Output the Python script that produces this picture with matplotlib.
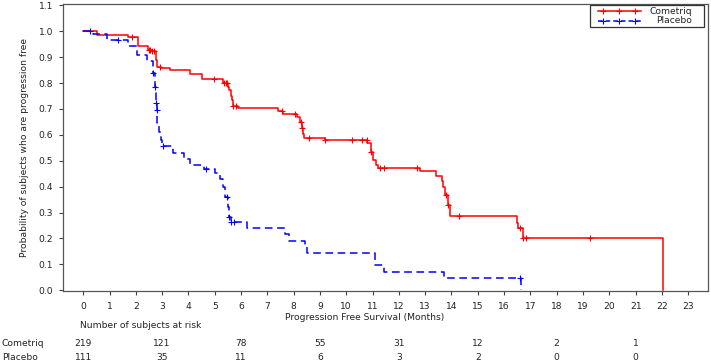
import numpy as np
import matplotlib
matplotlib.use("Agg")
from matplotlib import pyplot as plt
from matplotlib.lines import Line2D
from matplotlib.patches import Rectangle
from matplotlib.transforms import blended_transform_factory

# Kaplan-Meier steps (time in months, survival after the step)
cometriq_t = [0.0, 0.52, 1.7, 2.1, 2.47, 2.6, 2.75, 2.8, 2.95, 3.3, 4.06, 4.5, 5.32,
              5.5, 5.55, 5.6, 5.64, 5.68, 5.89, 7.41, 7.6, 8.11, 8.26, 8.3, 8.35, 8.4,
              9.19, 10.8, 10.93, 11.03, 11.13, 11.22, 12.8, 13.41, 13.63, 13.69, 13.75,
              13.85, 13.94, 16.48, 16.54, 16.71, 22.04]
cometriq_s = [1.0, 0.987, 0.976, 0.942, 0.929, 0.925, 0.89, 0.862, 0.857, 0.852, 0.834,
              0.814, 0.80, 0.785, 0.772, 0.75, 0.734, 0.711, 0.702, 0.691, 0.680, 0.667,
              0.65, 0.625, 0.605, 0.589, 0.580, 0.567, 0.535, 0.502, 0.483, 0.473, 0.46,
              0.441, 0.423, 0.40, 0.367, 0.33, 0.287, 0.261, 0.239, 0.203, 0.0]
cometriq_cens = [1.84, 2.5, 2.55, 2.62, 2.68, 2.9, 4.97, 5.35, 5.42, 5.48, 5.7, 5.8,
                 7.57, 8.06, 8.27, 8.33, 8.6, 9.19, 10.2, 10.6, 10.78, 10.93, 11.28,
                 11.43, 12.67, 13.8, 13.88, 14.3, 16.6, 16.72, 16.83, 19.27]

placebo_t = [0.0, 0.38, 0.89, 1.7, 2.03, 2.41, 2.64, 2.72, 2.75, 2.77, 2.79, 2.81,
             2.88, 2.95, 3.0, 3.42, 3.85, 4.05, 4.6, 5.0, 5.2, 5.3, 5.4, 5.5, 5.55, 5.6,
             6.21, 7.67, 7.83, 8.43, 8.49, 11.09, 11.43, 13.7, 16.64]
placebo_s = [1.0, 0.991, 0.965, 0.942, 0.907, 0.884, 0.839, 0.785, 0.76, 0.721, 0.695,
             0.644, 0.612, 0.58, 0.556, 0.530, 0.505, 0.483, 0.467, 0.451, 0.43, 0.40,
             0.361, 0.32, 0.284, 0.265, 0.239, 0.216, 0.190, 0.167, 0.143, 0.098,
             0.072, 0.049, 0.0]
placebo_cens = [0.25, 1.33, 2.66, 2.73, 2.77, 2.79, 3.02, 4.65, 5.45, 5.55, 5.6, 5.72,
                16.62]

risk_times = [0, 3, 6, 9, 12, 15, 18, 21]
cometriq_risk = [219, 121, 78, 55, 31, 12, 2, 1]
placebo_risk = [111, 35, 11, 6, 3, 2, 0, 0]

series_names = ["Cometriq", "Placebo"]

RED = "#ff0000"
BLUE = "#0000ff"
FS = 6.6
TXT = "#222222"
W, H = 711, 364


def surv_at(times, surv, t):
    idx = np.searchsorted(times, t, side="right") - 1
    return np.asarray(surv)[idx]


def fx(px):
    return px / W


def fy(py):
    return 1 - py / H


fig = plt.figure(figsize=(W / 100, H / 100), dpi=100)
ax = fig.add_axes([fx(62.7), fy(291), 645 / W, 287 / H])

ax.step(cometriq_t, cometriq_s, where="post", color=RED, lw=1.1)
ax.plot(cometriq_cens, surv_at(cometriq_t, cometriq_s, cometriq_cens), "+",
        color=RED, ms=4.5, mew=0.8)
ax.step(placebo_t, placebo_s, where="post", color=BLUE, lw=1.1, dashes=(5, 3))
ax.plot(placebo_cens, surv_at(placebo_t, placebo_s, placebo_cens), "+",
        color=BLUE, ms=4.5, mew=0.8)

ax.set_xlim(-0.78, 23.74)
ax.set_ylim(-0.003, 1.105)
ax.set_xticks(range(0, 24))
ax.set_yticks(np.arange(0, 1.11, 0.1))
ax.set_yticklabels([f"{v:.1f}" for v in np.arange(0, 1.11, 0.1)])
ax.tick_params(labelsize=FS, length=3, width=0.8, colors="#444444",
               labelcolor=TXT)
ax.tick_params(axis="y", pad=4)
ax.tick_params(axis="x", pad=5)
for sp in ax.spines.values():
    sp.set_color("#555555")
    sp.set_linewidth(0.9)

fig.text(fx(25), fy(147.5), "Probability of subjects who are progression free",
         rotation=90, ha="center", va="center", fontsize=FS, color=TXT)
fig.text(fx(364.5), fy(317), "Progression Free Survival (Months)",
         ha="center", va="center", fontsize=FS, color=TXT)

# number at risk table
fig.text(fx(141), fy(326), "Number of subjects at risk",
         ha="center", va="center", fontsize=FS, color=TXT)
tr = blended_transform_factory(ax.transData, fig.transFigure)
for label, counts, ypx in [(series_names[0], cometriq_risk, 344),
                           (series_names[1], placebo_risk, 357)]:
    fig.text(fx(2), fy(ypx), label, ha="left", va="center", fontsize=FS, color=TXT)
    for t, n in zip(risk_times, counts):
        ax.text(t, fy(ypx), str(n), transform=tr, ha="center", va="center",
                fontsize=FS, color=TXT, clip_on=False)

# legend box drawn by hand so the labels can be right aligned like the original
fig.add_artist(Rectangle((fx(590), fy(27)), 114 / W, 22 / H, transform=fig.transFigure,
                         facecolor="white", edgecolor="#333333", lw=0.9, zorder=5))
for name, color, dash, ypx in [(series_names[0], RED, None, 11.3),
                               (series_names[1], BLUE, (3, 2), 20.7)]:
    ln = Line2D([fx(598), fx(641)], [fy(ypx)] * 2, transform=fig.transFigure,
                color=color, lw=1.1, zorder=6)
    if dash:
        ln.set_dashes(dash)
    fig.add_artist(ln)
    fig.add_artist(Line2D([fx(603), fx(619), fx(635)], [fy(ypx)] * 3,
                          transform=fig.transFigure, ls="none", marker="+",
                          color=color, ms=4.5, mew=0.8, zorder=7))
    fig.text(fx(692), fy(ypx), name, ha="right", va="center", fontsize=FS,
             color=TXT, zorder=7)

fig.savefig("out.png", dpi=100)
